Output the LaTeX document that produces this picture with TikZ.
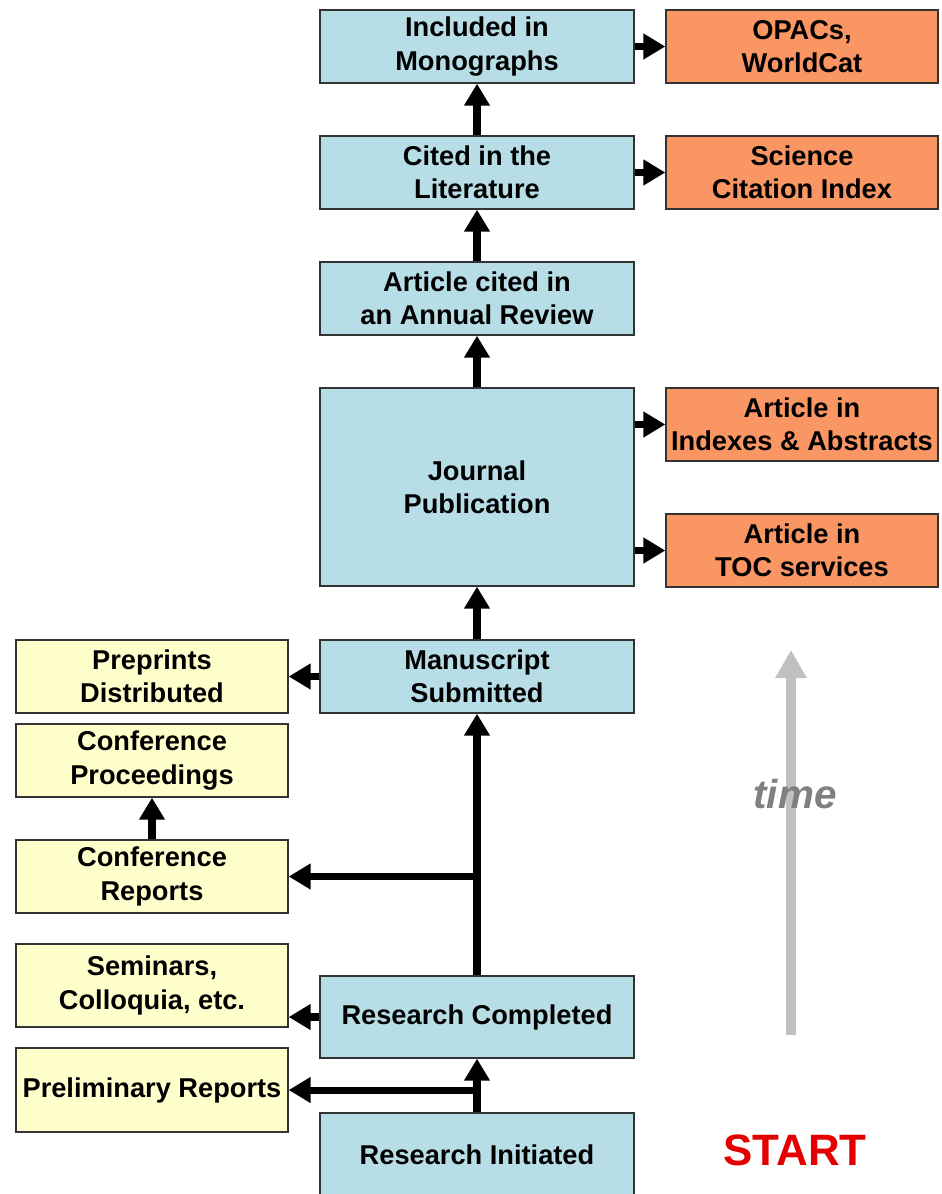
\documentclass[tikz,border=0pt]{standalone}
\usepackage{fontspec}
\setmainfont{Liberation Sans}
\usetikzlibrary{positioning, arrows.meta}
\definecolor{boxblue}{RGB}{183,221,230}
\definecolor{boxorange}{RGB}{250,150,100}
\definecolor{boxyellow}{RGB}{255,255,204}
\definecolor{timegray}{RGB}{192,192,192}
\definecolor{startred}{RGB}{228,0,0}

\begin{document}
\begin{tikzpicture}[
  x=0.02cm, y=-0.02cm,
  every node/.style={font=\bfseries\fontsize{15.5}{19}\selectfont, align=center, inner sep=0pt},
  stage/.style={draw=black!80, line width=0.8pt, fill=boxblue, minimum width=6.28cm, minimum height=1.46cm},
  index/.style={stage, fill=boxorange, minimum width=5.44cm},
  early/.style={stage, fill=boxyellow, minimum width=5.44cm},
  flow/.style={-{Triangle[length=12.5pt, width=14pt]}, line width=4pt}
]
\useasboundingbox (0,0) rectangle (941,1194);

% Main column
\node[stage] (incl) at (477,46.5) {Included in\\Monographs};
\node[stage] (cited) at (477,172.5) {Cited in the\\Literature};
\node[stage] (annual) at (477,298.5) {Article cited in\\an Annual Review};
\node[stage, minimum height=3.96cm] (journal) at (477,487) {Journal\\Publication};
\node[stage] (ms) at (477,676.5) {Manuscript\\Submitted};
\node[stage, minimum height=1.64cm] (rc) at (477,1017) {Research Completed};
\node[stage, minimum height=1.66cm] (ri) at (477,1154.5) {Research Initiated};

% Secondary services on the right
\node[index] (opac) at (802,46.5) {OPACs,\\WorldCat};
\node[index] (sci) at (802,172.5) {Science\\Citation Index};
\node[index] (idx) at (802,424.5) {Article in\\Indexes \& Abstracts};
\node[index] (toc) at (802,550.5) {Article in\\TOC services};

% Informal channels on the left
\node[early] (pre) at (152,676.5) {Preprints\\Distributed};
\node[early] (cproc) at (152,760.5) {Conference\\Proceedings};
\node[early] (crep) at (152,876.5) {Conference\\Reports};
\node[early, minimum height=1.66cm] (sem) at (152,985.5) {Seminars,\\Colloquia, etc.};
\node[early, minimum height=1.68cm] (prel) at (152,1090) {Preliminary Reports};

% Flow upwards
\draw[flow] (cited) -- (incl);
\draw[flow] (annual) -- (cited);
\draw[flow] (journal) -- (annual);
\draw[flow] (ms) -- (journal);
\draw[flow] (rc) -- (ms);
\draw[flow] (ri) -- (rc);
\draw[flow] (crep) -- (cproc);

% Side branches
\draw[flow] (incl) -- (opac);
\draw[flow] (cited) -- (sci);
\draw[flow] (journal.east |- idx) -- (idx);
\draw[flow] (journal.east |- toc) -- (toc);
\draw[flow] (ms) -- (pre);
\draw[flow] (ms |- crep) -- (crep);
\draw[flow] (rc.west) -- (rc.west -| sem.east);
\draw[flow] (rc |- prel) -- (prel);

% Time axis
\coordinate (tbot) at (791,1035);
\coordinate (ttop) at (791,650);
\draw[timegray, line width=5.7pt, -{Triangle[length=16pt, width=17pt]}] (tbot) -- (ttop);
\node[font=\bfseries\itshape\fontsize{23}{27}\selectfont, text=black!50] (time) at (795,794) {time};
\node[font=\bfseries\fontsize{25}{30}\selectfont, text=startred] (start) at (795,1150) {START};

\end{tikzpicture}
\end{document}
